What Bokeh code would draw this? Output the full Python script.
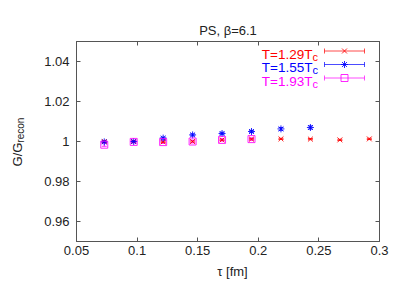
import math
from bokeh.plotting import figure
from bokeh.layouts import row, column
from bokeh.models import (Range1d, FixedTicker, CustomJSTickFormatter, Label,
                          Whisker, TeeHead, ColumnDataSource, LinearAxis)
from bokeh.embed import file_html
from bokeh.resources import INLINE
from bokeh.core.properties import value

# ---- data ----
tau = [0.0729, 0.0972, 0.1215, 0.1458, 0.1701, 0.1944, 0.2187, 0.2430, 0.2673, 0.2916]
r129 = [1.0000, 1.0000, 0.9998, 1.0000, 1.0008, 1.0012, 1.0013, 1.0012, 1.0008, 1.0013]
e129 = [0.0004, 0.0003, 0.0003, 0.0003, 0.0003, 0.0003, 0.0003, 0.0003, 0.0003, 0.0003]
r155 = [0.9998, 1.0000, 1.0017, 1.0033, 1.0040, 1.0050, 1.0063, 1.0070]
e155 = [0.0004, 0.0004, 0.0005, 0.0005, 0.0006, 0.0006, 0.0007, 0.0008]
r193 = [0.9984, 0.9998, 0.9997, 1.0000, 1.0008, 1.0012]
e193 = [0.0008, 0.0005, 0.0007, 0.0007, 0.0006, 0.0006]

series_labels = ["T=1.29T", "T=1.55T", "T=1.93T"]
series_colors = ["#ff0000", "#0000ff", "#ff00ff"]
series_markers = ["x", "asterisk", "square"]

xticks = [0.05, 0.1, 0.15, 0.2, 0.25, 0.3]
xlabels = ["0.05", "0.1", "0.15", "0.2", "0.25", "0.3"]
yticks = [0.96, 0.98, 1.0, 1.02, 1.04]
ylabels = ["0.96", "0.98", "1", "1.02", "1.04"]

title_text = "PS, \u03b2=6.1"
xlabel_text = "\u03c4 [fm]"
ylabel_main = "G/G"
ylabel_sub = "recon"

FONT = "Liberation Sans"
TXT = "#222222"
AX = "#555555"
TW, TH = 402, 281            # whole picture
LW = 30                      # width of the strip holding the y label
SH = 20                      # height of the strip holding the x label
W, H = TW - LW, TH - SH
BL, BR, BT = 76 - LW, 23, 41
BB = H - 241
FW, FH = W - BL - BR, H - BT - BB

p = figure(width=W, height=H, output_backend="svg", toolbar_location=None,
           x_range=Range1d(0.05, 0.3), y_range=Range1d(0.95, 1.05),
           min_border_left=BL, min_border_right=BR, min_border_top=BT,
           min_border_bottom=BB)
p.extra_x_ranges = {"px": Range1d(0, FW)}
p.extra_y_ranges = {"py": Range1d(0, FH)}
p.grid.visible = False
p.outline_line_color = AX
p.outline_line_width = 1

p.title.text = title_text
p.title.align = "center"
p.title.text_font = FONT
p.title.text_font_size = "13px"
p.title.text_font_style = "normal"
p.title.text_color = TXT
p.title.standoff = 8

def fmt(vals, labs):
    return CustomJSTickFormatter(args=dict(vals=vals, labs=labs), code="""
const i = vals.findIndex(v => Math.abs(v - tick) < 1e-9);
return i >= 0 ? labs[i] : '';
""")

for ax, tk, lb in ((p.xaxis[0], xticks, xlabels), (p.yaxis[0], yticks, ylabels)):
    ax.ticker = FixedTicker(ticks=tk)
    ax.formatter = fmt(tk, lb)
    ax.major_tick_in = 4
    ax.major_tick_out = 0
    ax.minor_tick_in = 0
    ax.minor_tick_out = 0
    ax.axis_line_color = AX
    ax.major_tick_line_color = AX
    ax.major_label_text_font = FONT
    ax.major_label_text_font_size = "13px"
    ax.major_label_text_color = TXT
p.xaxis.major_label_standoff = 4
p.yaxis.major_label_standoff = 7

# mirrored ticks on top and right (inside)
for loc, tk in (("above", xticks), ("right", yticks)):
    a = LinearAxis(ticker=FixedTicker(ticks=tk), major_label_text_font_size="0px",
                   major_tick_in=4, major_tick_out=0, minor_tick_in=0, minor_tick_out=0,
                   axis_line_color=AX, major_tick_line_color=AX,
                   major_label_standoff=0)
    a.formatter = CustomJSTickFormatter(code="return '';")
    p.add_layout(a, loc)

# ---- data series ----
all_y = [r129, r155, r193]
all_e = [e129, e155, e193]
for ys, es, col, mk in zip(all_y, all_e, series_colors, series_markers):
    xs = tau[:len(ys)]
    src = ColumnDataSource(dict(x=xs, y=ys,
                                lo=[y - e for y, e in zip(ys, es)],
                                hi=[y + e for y, e in zip(ys, es)]))
    wk = Whisker(source=src, base="x", upper="hi", lower="lo", dimension="height",
                 line_color=col, line_width=1, line_alpha=0.8,
                 upper_head=TeeHead(size=5, line_color=col, line_width=1, line_alpha=0.8),
                 lower_head=TeeHead(size=5, line_color=col, line_width=1, line_alpha=0.8))
    p.add_layout(wk)
    p.scatter("x", "y", source=src, marker=mk, size=7, line_color=col,
              fill_color=None, line_width=1, line_alpha=0.85)

# ---- legend (frame pixel coordinates) ----
def lab(**kw):
    base = dict(x_range_name="px", y_range_name="py", text_font=FONT,
                text_font_size="13px", text_color=TXT)
    base.update(kw)
    p.add_layout(Label(**base))

rows_y = [190.5, 177.0, 163.5]
lx0, lx1, lxm = 248, 288, 268
for ly, txt, col, mk in zip(rows_y, series_labels, series_colors, series_markers):
    p.segment(x0=[lx0], y0=[ly], x1=[lx1], y1=[ly], line_color=col, line_width=1,
              line_alpha=0.7, x_range_name="px", y_range_name="py")
    p.segment(x0=[lx0, lx1], y0=[ly - 2.5, ly - 2.5], x1=[lx0, lx1], y1=[ly + 2.5, ly + 2.5],
              line_color=col, line_width=1, line_alpha=0.7,
              x_range_name="px", y_range_name="py")
    p.scatter(x=[lxm], y=[ly], marker=mk, size=7, line_color=col, fill_color=None,
              line_width=1, line_alpha=0.85, x_range_name="px", y_range_name="py")
    lab(x=236, y=ly - 3, text=txt, text_align="right", text_baseline="alphabetic",
        text_font_size="13.5px", text_color=col)
    lab(x=236, y=ly - 5.5, text="c", text_align="left", text_baseline="alphabetic",
        text_font_size="11px", text_color=col)

# ---- y label strip (pixel coordinates, y measured upward from its bottom) ----
q = figure(width=LW, height=H, output_backend="svg", toolbar_location=None,
           x_range=Range1d(0, LW), y_range=Range1d(0, H),
           x_axis_type=None, y_axis_type=None, min_border=0)
q.outline_line_color = None
q.grid.visible = False
q.text(x=[17], y=[H - 163], text=[ylabel_main], angle=math.pi / 2, text_align="left",
       text_baseline="alphabetic", text_font=value(FONT), text_font_size="13px",
       text_color=TXT)
q.text(x=[20], y=[H - 132], text=[ylabel_sub], angle=math.pi / 2, text_align="left",
       text_baseline="alphabetic", text_font=value(FONT), text_font_size="10px",
       text_color=TXT)

# ---- x label strip ----
s = figure(width=TW, height=SH, output_backend="svg", toolbar_location=None,
           x_range=Range1d(0, TW), y_range=Range1d(0, SH),
           x_axis_type=None, y_axis_type=None, min_border=0)
s.outline_line_color = None
s.grid.visible = False
s.text(x=[232], y=[SH - 10], text=[xlabel_text], text_align="center",
       text_baseline="middle", text_font=value(FONT), text_font_size="13px",
       text_color=TXT)

layout = column(row(q, p, spacing=0), s, spacing=0)
open("out.html", "w").write(file_html(layout, INLINE))
